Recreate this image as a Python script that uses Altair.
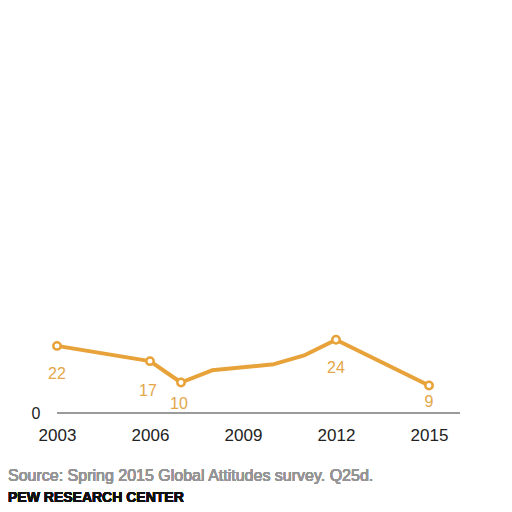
import altair as alt
import pandas as pd

# ---- data ----
years = [2003, 2006, 2007, 2008, 2009, 2010, 2011, 2012, 2015]
values = [22, 17, 10, 14, 15, 16, 19, 24, 9]
marked_years = [2003, 2006, 2007, 2012, 2015]
tick_years = [2003, 2006, 2009, 2012, 2015]
source_text = "Source: Spring 2015 Global Attitudes survey. Q25d."
credit_text = "PEW RESEARCH CENTER"

ORANGE = "#E8A23A"
LABEL = "#E3A648"
FONT = "Liberation Sans"

df = pd.DataFrame({"year": years, "value": values})
df["marked"] = df["year"].isin(marked_years)

x = alt.X("year:Q",
          scale=alt.Scale(domain=[2003, 2016], nice=False, zero=False),
          axis=alt.Axis(values=tick_years, format="d", title=None, grid=False,
                        domain=False, ticks=False, labelFontSize=17,
                        labelColor="#222222", labelFont=FONT, labelPadding=14,
                        labelFlush=False))
y = alt.Y("value:Q",
          scale=alt.Scale(domain=[0, 40], nice=False),
          axis=alt.Axis(values=[0], title=None, grid=False, domain=False,
                        ticks=False, labelFontSize=16, labelColor="#222222",
                        labelFont=FONT, labelPadding=17))

base = alt.Chart(df)

baseline = base.mark_rule(color="#999999", strokeWidth=1.2).encode(
    x=alt.value(0), x2=alt.value(403), y=alt.value(122)
)

line = base.mark_line(color=ORANGE, strokeWidth=4, strokeJoin="round").encode(x=x, y=y)

pts = base.transform_filter("datum.marked").mark_point(
    filled=True, fill="white", stroke=ORANGE, strokeWidth=2.5, size=55, opacity=1
).encode(x=x, y=y)

def labels(sel, dx, dy):
    return base.transform_filter(sel).mark_text(
        font=FONT, fontSize=16, color=LABEL, dx=dx, dy=dy, baseline="middle"
    ).encode(x=x, y=y, text="value:Q")

lab_a = labels("datum.year == 2003 || datum.year == 2012", 0, 28)
lab_b = labels("datum.year == 2006", -2, 30)
lab_c = labels("datum.year == 2007", -2, 21)
lab_d = labels("datum.year == 2015", 0, 16)

foot1 = base.mark_text(font=FONT, fontSize=16, fontWeight="normal", color="#959595",
                       align="left", baseline="middle").encode(
    x=alt.value(-49), y=alt.value(185), text=alt.value(source_text))
foot2 = base.mark_text(font=FONT, fontSize=14, fontWeight="bold", color="#111111",
                       align="left", baseline="middle").encode(
    x=alt.value(-49), y=alt.value(207), text=alt.value(credit_text))

chart = alt.layer(baseline, line, pts, lab_a, lab_b, lab_c, lab_d, foot1, foot2).properties(
    width=403, height=122,
    background="white",
    autosize=alt.AutoSizeParams(type="none"),
    padding={"left": 49, "top": 283, "right": 44, "bottom": 91},
).configure_view(strokeWidth=0, stroke=None)

chart.save("out.html", embed_options={"renderer": "svg", "actions": False})
